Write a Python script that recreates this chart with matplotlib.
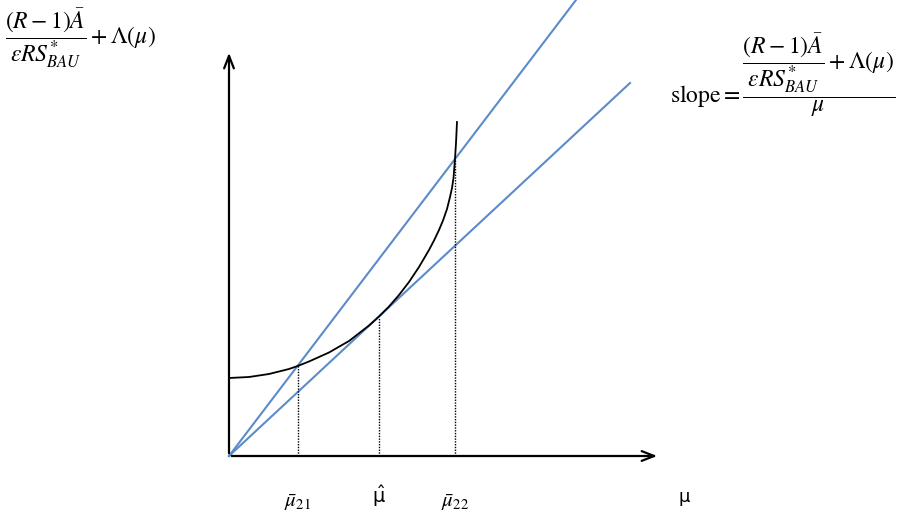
import matplotlib
matplotlib.use("Agg")
import matplotlib.pyplot as plt

plt.rcParams['mathtext.fontset'] = 'stix'

curve_x = [0, 20, 40, 60, 70, 80, 100, 120, 140, 150, 160, 170, 180, 190, 200, 205, 210, 214, 218, 221, 223, 224.5, 226, 227, 228]
curve_y = [78, 79, 82, 87, 90.5, 94.5, 103.5, 115, 130.5, 139.5, 149.5, 161, 174, 189, 206, 215.5, 226, 235.5, 247, 259, 268, 278, 297, 313, 334]

# rays from the origin
steep_x = [0, 347]
steep_y = [0, 456]
shallow_x = [0, 401]
shallow_y = [0, 373]

# dotted drop lines at mu_bar_21, mu_hat, mu_bar_22
drop_x = [69, 150, 226]
drop_top = [90.5, 139.5, 297]
drop_labels = [r'$\bar{\mu}_{21}$', r'$\hat{\mathrm{\mu}}$', r'$\bar{\mu}_{22}$']

axis_x_end = 431
axis_y_end = 406

blue = '#5b8bc9'

fig = plt.figure(figsize=(9.03, 5.2), dpi=100)
ax = fig.add_axes([0, 0, 1, 1])
ax.set_xlim(-229, 674)
ax.set_ylim(-64, 456)
ax.axis('off')

# axes with open arrow heads
ax.annotate('', xy=(0, axis_y_end), xytext=(0, 0),
            arrowprops=dict(arrowstyle='->,head_length=0.9,head_width=0.35', color='black', lw=1.6))
ax.annotate('', xy=(axis_x_end, 0), xytext=(0, 0),
            arrowprops=dict(arrowstyle='->,head_length=0.9,head_width=0.35', color='black', lw=1.6))

ax.plot(steep_x, steep_y, color=blue, lw=1.5)
ax.plot(shallow_x, shallow_y, color=blue, lw=1.5)
ax.plot(curve_x, curve_y, color='black', lw=1.3)

for x, top in zip(drop_x, drop_top):
    ax.plot([x, x], [0, top], color='black', lw=1.0, linestyle=(0, (1, 1)))

# tick labels under the axis
ax.text(drop_x[0], -47, drop_labels[0], fontsize=15, ha='center', va='center')
ax.text(drop_x[1], -40, drop_labels[1], fontsize=14, ha='center', va='center',
        math_fontfamily='dejavusans')
ax.text(drop_x[2], -47, drop_labels[2], fontsize=15, ha='center', va='center')
ax.text(455, -41, 'μ', fontsize=13, ha='center', va='center', family='DejaVu Sans')

# y-axis label
ax.text(-224, 418, r'$\dfrac{(R-1)\bar{A}}{\epsilon R S^{*}_{BAU}} + \Lambda(\mu)$',
        fontsize=17, ha='left', va='center')

# slope annotation
ax.text(441, 381, r'$\mathrm{slope} = \dfrac{\dfrac{(R-1)\bar{A}}{\epsilon R S^{*}_{BAU}} + \Lambda(\mu)}{\mu}$',
        fontsize=17, ha='left', va='center')

fig.savefig('out.png', dpi=100)
